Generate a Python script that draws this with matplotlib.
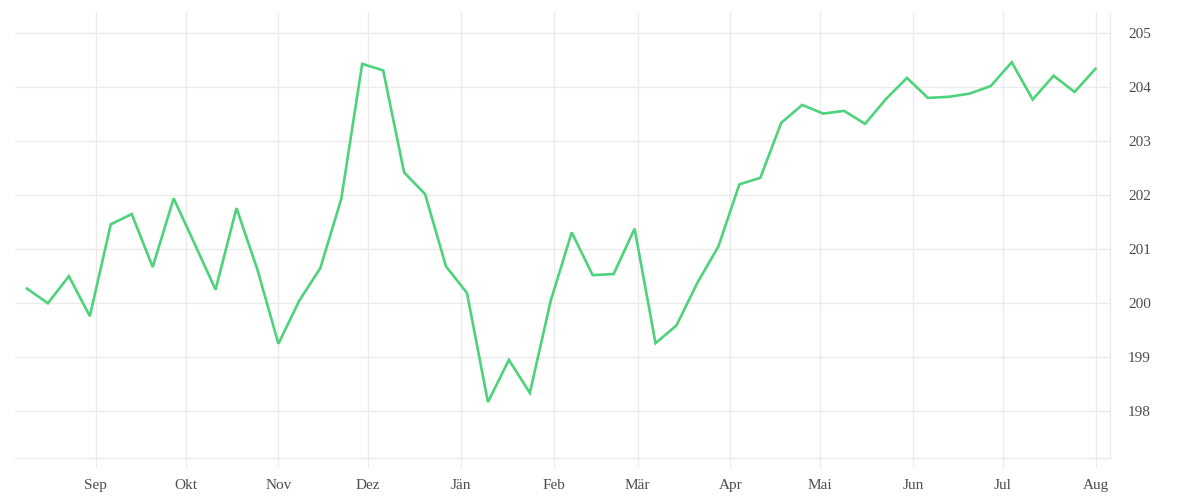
import pandas as pd
import matplotlib.pyplot as plt

# Wochenwerte
dates = pd.date_range('2022-08-09', periods=52, freq='7D')
values = [200.27, 200.00, 200.50, 199.76, 201.46, 201.65, 200.67, 201.94,
          201.10, 200.25, 201.76, 200.62, 199.25, 200.05, 200.65, 201.93,
          204.43, 204.31, 202.42, 202.02, 200.68, 200.19, 198.17, 198.95,
          198.34, 200.05, 201.31, 200.52, 200.54, 201.38, 199.26, 199.59,
          200.38, 201.05, 202.20, 202.32, 203.34, 203.67, 203.51, 203.56,
          203.32, 203.78, 204.17, 203.80, 203.82, 203.88, 204.02, 204.46,
          203.77, 204.21, 203.91, 204.34]
month_labels = ['Sep', 'Okt', 'Nov', 'Dez', 'Jän', 'Feb', 'Mär', 'Apr',
                'Mai', 'Jun', 'Jul', 'Aug']
month_ticks = pd.date_range('2022-09-01', periods=12, freq='MS')
y_ticks = [198, 199, 200, 201, 202, 203, 204, 205]

grid_col = '#ebebeb'
text_col = '#4d4d4d'

fig = plt.figure(figsize=(12, 5), dpi=100)
ax = fig.add_axes([15/1200, 42/500, 1095/1200, 446/500])

ax.plot(dates, values, color='#4ed27b', linewidth=1.9, solid_joinstyle='miter')

ax.set_xlim(pd.Timestamp('2022-08-05'), pd.Timestamp('2023-08-05 20:00'))
ax.set_ylim(197.135, 205.39)

ax.set_xticks(month_ticks)
ax.set_xticklabels(month_labels)
ax.set_yticks(y_ticks)
ax.yaxis.tick_right()

ax.grid(True, color=grid_col, linewidth=1)
ax.set_axisbelow(True)
for s in ['top', 'left']:
    ax.spines[s].set_visible(False)
for s in ['bottom', 'right']:
    ax.spines[s].set_color(grid_col)
    ax.spines[s].set_linewidth(1)

ax.tick_params(axis='x', length=7, color=grid_col, pad=8,
               labelsize=11, labelcolor=text_col)
ax.tick_params(axis='y', length=0, pad=13, labelsize=11, labelcolor=text_col)
for lab in ax.get_xticklabels() + ax.get_yticklabels():
    lab.set_fontfamily('Liberation Serif')

plt.savefig('out.png', dpi=100)
